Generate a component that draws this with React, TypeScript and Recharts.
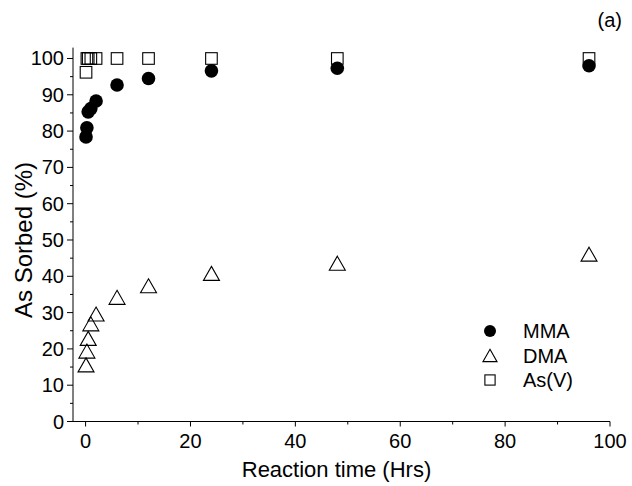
import { ScatterChart, Scatter, XAxis, YAxis, Legend } from 'recharts';

// Reaction times (hrs) shared by all three series
const TIMES = [0.083, 0.25, 0.5, 1, 2, 6, 12, 24, 48, 96];
const MMA = [78.4, 80.9, 85.3, 86.2, 88.3, 92.7, 94.5, 96.6, 97.3, 98.0];
const DMA = [15.6, 19.4, 22.9, 26.9, 29.6, 34.2, 37.4, 40.8, 43.6, 46.1];
const AS_V = [96.2, 100, 100, 100, 100, 100, 100, 100, 100, 100];

const X_TICKS = [0, 10, 20, 30, 40, 50, 60, 70, 80, 90, 100];
const Y_TICKS = [0, 5, 10, 15, 20, 25, 30, 35, 40, 45, 50, 55, 60, 65, 70, 75, 80, 85, 90, 95, 100];

const FONT = '"Liberation Sans", Arial, sans-serif';

const toPoints = (vals: number[]) => TIMES.map((t, i) => ({ x: t, y: vals[i] }));

type MarkerKind = 'circle' | 'triangle' | 'square';

const SERIES: { name: string; values: number[]; marker: MarkerKind }[] = [
  { name: 'MMA', values: MMA, marker: 'circle' },
  { name: 'DMA', values: DMA, marker: 'triangle' },
  { name: 'As(V)', values: AS_V, marker: 'square' },
];

const marker = (kind: MarkerKind, cx: number, cy: number, s = 1) => {
  if (kind === 'circle') return <circle cx={cx} cy={cy} r={6.8 * s} fill="#000" />;
  if (kind === 'triangle') {
    const w = 8 * s, h = 7 * s;
    return (
      <path
        d={`M${cx},${cy - h}L${cx + w},${cy + h}L${cx - w},${cy + h}Z`}
        fill="none"
        stroke="#000"
        strokeWidth={1.1}
      />
    );
  }
  const a = 5.8 * s;
  return <rect x={cx - a} y={cy - a} width={2 * a} height={2 * a} fill="none" stroke="#000" strokeWidth={1.1} />;
};

const shapeFor = (kind: MarkerKind) => (p: any) => marker(kind, p.cx, p.cy);

const XTick = ({ x, y, payload }: any) => {
  const major = payload.value % 20 === 0;
  return (
    <g>
      <line x1={x} x2={x} y1={y} y2={y + (major ? 5 : 3)} stroke="#000" />
      {major && (
        <text x={x} y={y + 26} textAnchor="middle" fontSize={20} fontFamily={FONT} fill="#000">
          {payload.value}
        </text>
      )}
    </g>
  );
};

const YTick = ({ x, y, payload }: any) => {
  const major = payload.value % 10 === 0;
  return (
    <g>
      <line x1={x - (major ? 6 : 3)} x2={x} y1={y} y2={y} stroke="#000" />
      {major && (
        <text x={x - 9} y={y} dy="0.35em" textAnchor="end" fontSize={20} fontFamily={FONT} fill="#000">
          {payload.value}
        </text>
      )}
    </g>
  );
};

const LegendBox = () => (
  <svg width={110} height={76} style={{ display: 'block' }}>
    {SERIES.map((s, i) => {
      const cy = 13 + i * 24.5;
      return (
        <g key={s.name}>
          {marker(s.marker, 10, cy, 0.88)}
          <text x={43} y={cy} dy="0.36em" fontSize={20} fontFamily={FONT} fill="#000">
            {s.name}
          </text>
        </g>
      );
    })}
  </svg>
);

export default function App() {
  return (
    <div style={{ position: 'absolute', left: 0, top: 0, background: '#fff' }}>
      <ScatterChart width={632} height={486} margin={{ top: 47.6, right: 22, bottom: 0, left: 0 }}>
        <XAxis
          type="number"
          dataKey="x"
          domain={[-2.4, 100]}
          ticks={X_TICKS}
          interval={0}
          allowDataOverflow
          height={64.5}
          tickSize={0}
          tickMargin={0}
          tickLine={false}
          axisLine={{ stroke: '#000' }}
          tick={<XTick />}
          label={{
            value: 'Reaction time (Hrs)',
            position: 'insideBottom',
            offset: 9,
            dx: -5,
            fontSize: 22,
            fontFamily: FONT,
            fill: '#000',
          }}
        />
        <YAxis
          type="number"
          dataKey="y"
          domain={[0, 103]}
          ticks={Y_TICKS}
          interval={0}
          allowDataOverflow
          width={73}
          tickSize={0}
          tickMargin={0}
          tickLine={false}
          axisLine={{ stroke: '#000' }}
          tick={<YTick />}
        />
        {[...SERIES].reverse().map((s) => (
          <Scatter
            key={s.name}
            name={s.name}
            data={toPoints(s.values)}
            shape={shapeFor(s.marker)}
            isAnimationActive={false}
          />
        ))}
        <Legend
          layout="vertical"
          align="center"
          verticalAlign="middle"
          content={<LegendBox />}
          wrapperStyle={{ left: 480, top: 318, width: 110 }}
        />
        <text
          transform="translate(23,240) rotate(-90)"
          textAnchor="middle"
          dy="0.36em"
          fontSize={24}
          fontFamily={FONT}
          fill="#000"
        >
          As Sorbed (%)
        </text>
        <text x={622} y={27} textAnchor="end" fontSize={20} fontFamily={FONT} fill="#000">
          (a)
        </text>
      </ScatterChart>
    </div>
  );
}
